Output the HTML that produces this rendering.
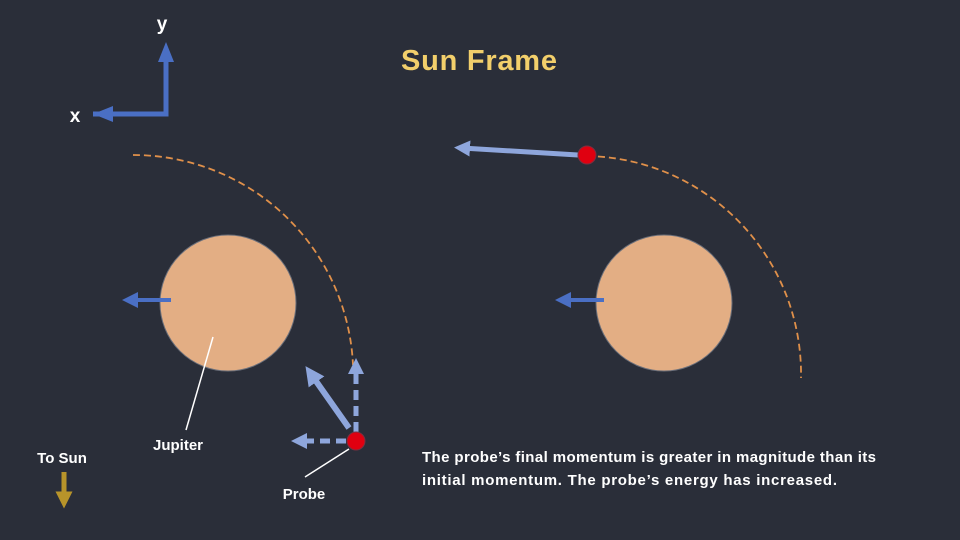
<!DOCTYPE html>
<html><head><meta charset="utf-8"><style>
html,body{margin:0;padding:0;background:#2a2e39;}
svg{display:block;font-family:"Liberation Sans",sans-serif;}
</style></head><body>
<svg width="960" height="540" viewBox="0 0 960 540">
<defs>
<marker id="hb" markerWidth="4" markerHeight="4" refX="2" refY="2" orient="auto" markerUnits="strokeWidth"><path d="M0,0 L4,2 L0,4 z" fill="#4a6fc4"/></marker>
<marker id="hl" markerWidth="3.2" markerHeight="3.2" refX="1.6" refY="1.6" orient="auto" markerUnits="strokeWidth"><path d="M0,0 L3.2,1.6 L0,3.2 z" fill="#8ea6dc"/></marker>
<marker id="hg" markerWidth="3.4" markerHeight="3.4" refX="1.7" refY="1.7" orient="auto" markerUnits="strokeWidth"><path d="M0,0 L3.4,1.7 L0,3.4 z" fill="#b8942a"/></marker>
</defs>
<rect width="960" height="540" fill="#2a2e39"/>
<text x="479" y="70" text-anchor="middle" font-size="29" font-weight="bold" fill="#f2cf6b" textLength="156">Sun Frame</text>
<g>
<path d="M93,114 L166,114 L166,52" fill="none" stroke="#4a6fc4" stroke-width="5"/>
<path d="M158,62 L166,42 L174,62 z" fill="#4a6fc4"/>
<path d="M113,106 L93,114 L113,122 z" fill="#4a6fc4"/>
<text x="162" y="30" text-anchor="middle" font-size="19" font-weight="bold" fill="#fff">y</text>
<text x="75" y="122" text-anchor="middle" font-size="19" font-weight="bold" fill="#fff">x</text>
</g>
<path d="M133,155 A220,220 0 0 1 353,365" fill="none" stroke="#e0904a" stroke-width="1.8" stroke-dasharray="7,4"/>
<path d="M587,156 A218,218 0 0 1 801,378" fill="none" stroke="#e0904a" stroke-width="1.8" stroke-dasharray="7,4"/>
<circle cx="228" cy="303" r="68" fill="#e3ae84" stroke="#6b6f7a" stroke-width="1"/>
<circle cx="664" cy="303" r="68" fill="#e3ae84" stroke="#6b6f7a" stroke-width="1"/>
<line x1="171" y1="300" x2="130" y2="300" stroke="#4a6fc4" stroke-width="4" marker-end="url(#hb)"/>
<line x1="604" y1="300" x2="563" y2="300" stroke="#4a6fc4" stroke-width="4" marker-end="url(#hb)"/>
<line x1="349" y1="428" x2="311" y2="374" stroke="#8ea6dc" stroke-width="6" marker-end="url(#hl)"/>
<line x1="356" y1="432" x2="356" y2="366" stroke="#8ea6dc" stroke-width="5" stroke-dasharray="10,6" marker-end="url(#hl)"/>
<line x1="346" y1="441" x2="299" y2="441" stroke="#8ea6dc" stroke-width="5" stroke-dasharray="10,6" marker-end="url(#hl)"/>
<line x1="578" y1="155" x2="462" y2="148" stroke="#8ea6dc" stroke-width="5" marker-end="url(#hl)"/>
<circle cx="356" cy="441" r="9" fill="#e00010" stroke="#7a3040" stroke-width="1"/>
<circle cx="587" cy="155" r="9" fill="#e00010" stroke="#7a3040" stroke-width="1"/>
<line x1="213" y1="337" x2="186" y2="430" stroke="#fff" stroke-width="1.5"/>
<text x="178" y="450" text-anchor="middle" font-size="15" font-weight="bold" fill="#fff">Jupiter</text>
<line x1="349" y1="449" x2="305" y2="477" stroke="#fff" stroke-width="1.5"/>
<text x="304" y="499" text-anchor="middle" font-size="15" font-weight="bold" fill="#fff">Probe</text>
<text x="62" y="463" text-anchor="middle" font-size="15" font-weight="bold" fill="#fff">To Sun</text>
<line x1="64" y1="472" x2="64" y2="500" stroke="#b8942a" stroke-width="5" marker-end="url(#hg)"/>
<text font-size="15" font-weight="bold" fill="#fff">
<tspan x="422" y="462" textLength="454">The probe’s final momentum is greater in magnitude than its</tspan>
<tspan x="422" y="485" textLength="415">initial momentum. The probe’s energy has increased.</tspan>
</text>
</svg>
</body></html>
